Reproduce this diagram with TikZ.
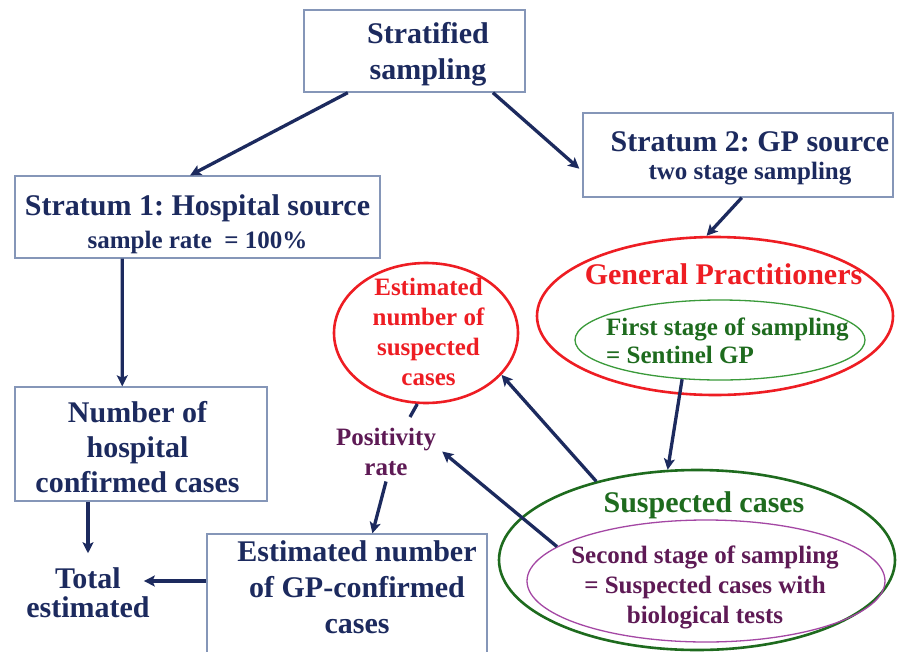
\documentclass[tikz,border=0pt]{standalone}
\usepackage{fontspec}
\setmainfont{Liberation Serif}
\usetikzlibrary{shapes.geometric,arrows.meta}
\definecolor{navy}{HTML}{1C2A5E}
\definecolor{boxline}{HTML}{8596B8}
\definecolor{myred}{HTML}{EE1D23}
\definecolor{dgreen}{HTML}{1E6B1E}
\definecolor{lgreen}{HTML}{3A9A3A}
\definecolor{dpurple}{HTML}{5E1A55}
\definecolor{lpurple}{HTML}{A447A4}
\frenchspacing
\begin{document}
\begin{tikzpicture}[x=1pt,y=-1pt,
  box/.style={draw=boxline,line width=1.4pt,rectangle,inner sep=0pt},
  oval/.style={ellipse,inner sep=0pt},
  big/.style={font=\bfseries\fontsize{30}{36}\selectfont,inner sep=0pt,align=center},
  med/.style={font=\bfseries\fontsize{25}{30}\selectfont,inner sep=0pt,align=center},
  arr/.style={draw=navy,line width=3.3pt,-{Stealth[length=11pt,width=11pt,inset=2.5pt]}},
  link/.style={draw=navy,line width=3.3pt}]
\useasboundingbox[fill=white] (0,0) rectangle (897,651);

% boxes
\node[box,minimum width=221pt,minimum height=82pt] (strat) at (414.5,51) {};
\node[box,minimum width=365pt,minimum height=82pt] (s1) at (197.5,217) {};
\node[box,minimum width=310pt,minimum height=84pt] (s2) at (738,155) {};
\node[box,minimum width=252pt,minimum height=114pt] (hosp) at (141,444) {};
\node[box,minimum width=280pt,minimum height=146pt] (gpc) at (347,607) {};

% ellipses
\node[oval,draw=myred,line width=2.6pt,minimum width=184pt,minimum height=140pt] (est) at (426,333) {};
\node[oval,draw=myred,line width=2.6pt,minimum width=356pt,minimum height=158pt] (gp) at (715,316) {};
\node[oval,draw=lgreen,line width=1.3pt,minimum width=290pt,minimum height=80pt] (fs) at (720,340) {};
\node[oval,draw=dgreen,line width=2.6pt,minimum width=396pt,minimum height=180pt] (sus) at (697,560) {};
\node[oval,draw=lpurple,line width=1.3pt,minimum width=358pt,minimum height=122pt] (sc) at (706,581) {};

% texts
\node[big,text=navy] (stratT) at (428,54) {Stratified\\sampling};
\node[big,text=navy] (s1T) at (197.5,224) {Stratum 1: Hospital source\\[-3pt]{\fontsize{25}{30}\selectfont sample rate\ \ = 100\%}};
\node[big,text=navy] (s2T) at (750,158.5) {Stratum 2: GP source\\[-8pt]{\fontsize{25}{30}\selectfont two stage sampling}};
\node[big,text=myred] (gpT) at (723.5,274.7) {General Practitioners};
\node[med,text=dgreen,align=left,anchor=west] (fsT) at (606,340.5) {First stage of sampling\\[-2pt]= Sentinel GP};
\node[big,text=dgreen] (susT) at (704,505) {Suspected cases};
\node[med,text=dpurple] (scT) at (705,587) {Second stage of sampling\\= Suspected cases with\\biological tests};
\node[med,text=myred] (estT) at (428.5,332) {Estimated\\number of\\suspected\\cases};
\node[med,text=dpurple,inner sep=6pt] (pos) at (386,451.5) {Positivity\\rate};
\node[big,text=navy] (hospT) at (137.5,446.75) {Number of\\[-1pt]hospital\\[-1pt]confirmed cases};
\node[big,text=navy] (total) at (88,592.5) {Total\\[-7pt]estimated};
\node[big,text=navy] (gpcT) at (357,587) {Estimated number\\of GP-confirmed\\cases};

\coordinate (pe) at (410,417);
\coordinate (tt) at ([shift={(-6pt,11.5pt)}]total.east);

% connectors
\draw[arr] (strat.-148) -- (s1.100);
\draw[arr,shorten >=4pt] (strat.-28) -- (s2.186);
\draw[arr] (s2.-85) -- (gp.96);
\draw[arr] (s1.-151.5) -- (hosp.108.4);
\draw[arr] (hosp.south -| total.north) -- ([yshift=14pt]total.north);
\draw[arr] (gpc.west |- tt) -- (tt);
\draw[arr] (fs.-134) -- (sus.108);
\draw[arr] (sus.142) -- (est.-29);
\draw[arr] (sc.167) -- (pos.east);
\draw[link] (est.-97) -- (pe);
\draw[arr] (pos.south) -- (gpc.71);
\end{tikzpicture}
\end{document}
